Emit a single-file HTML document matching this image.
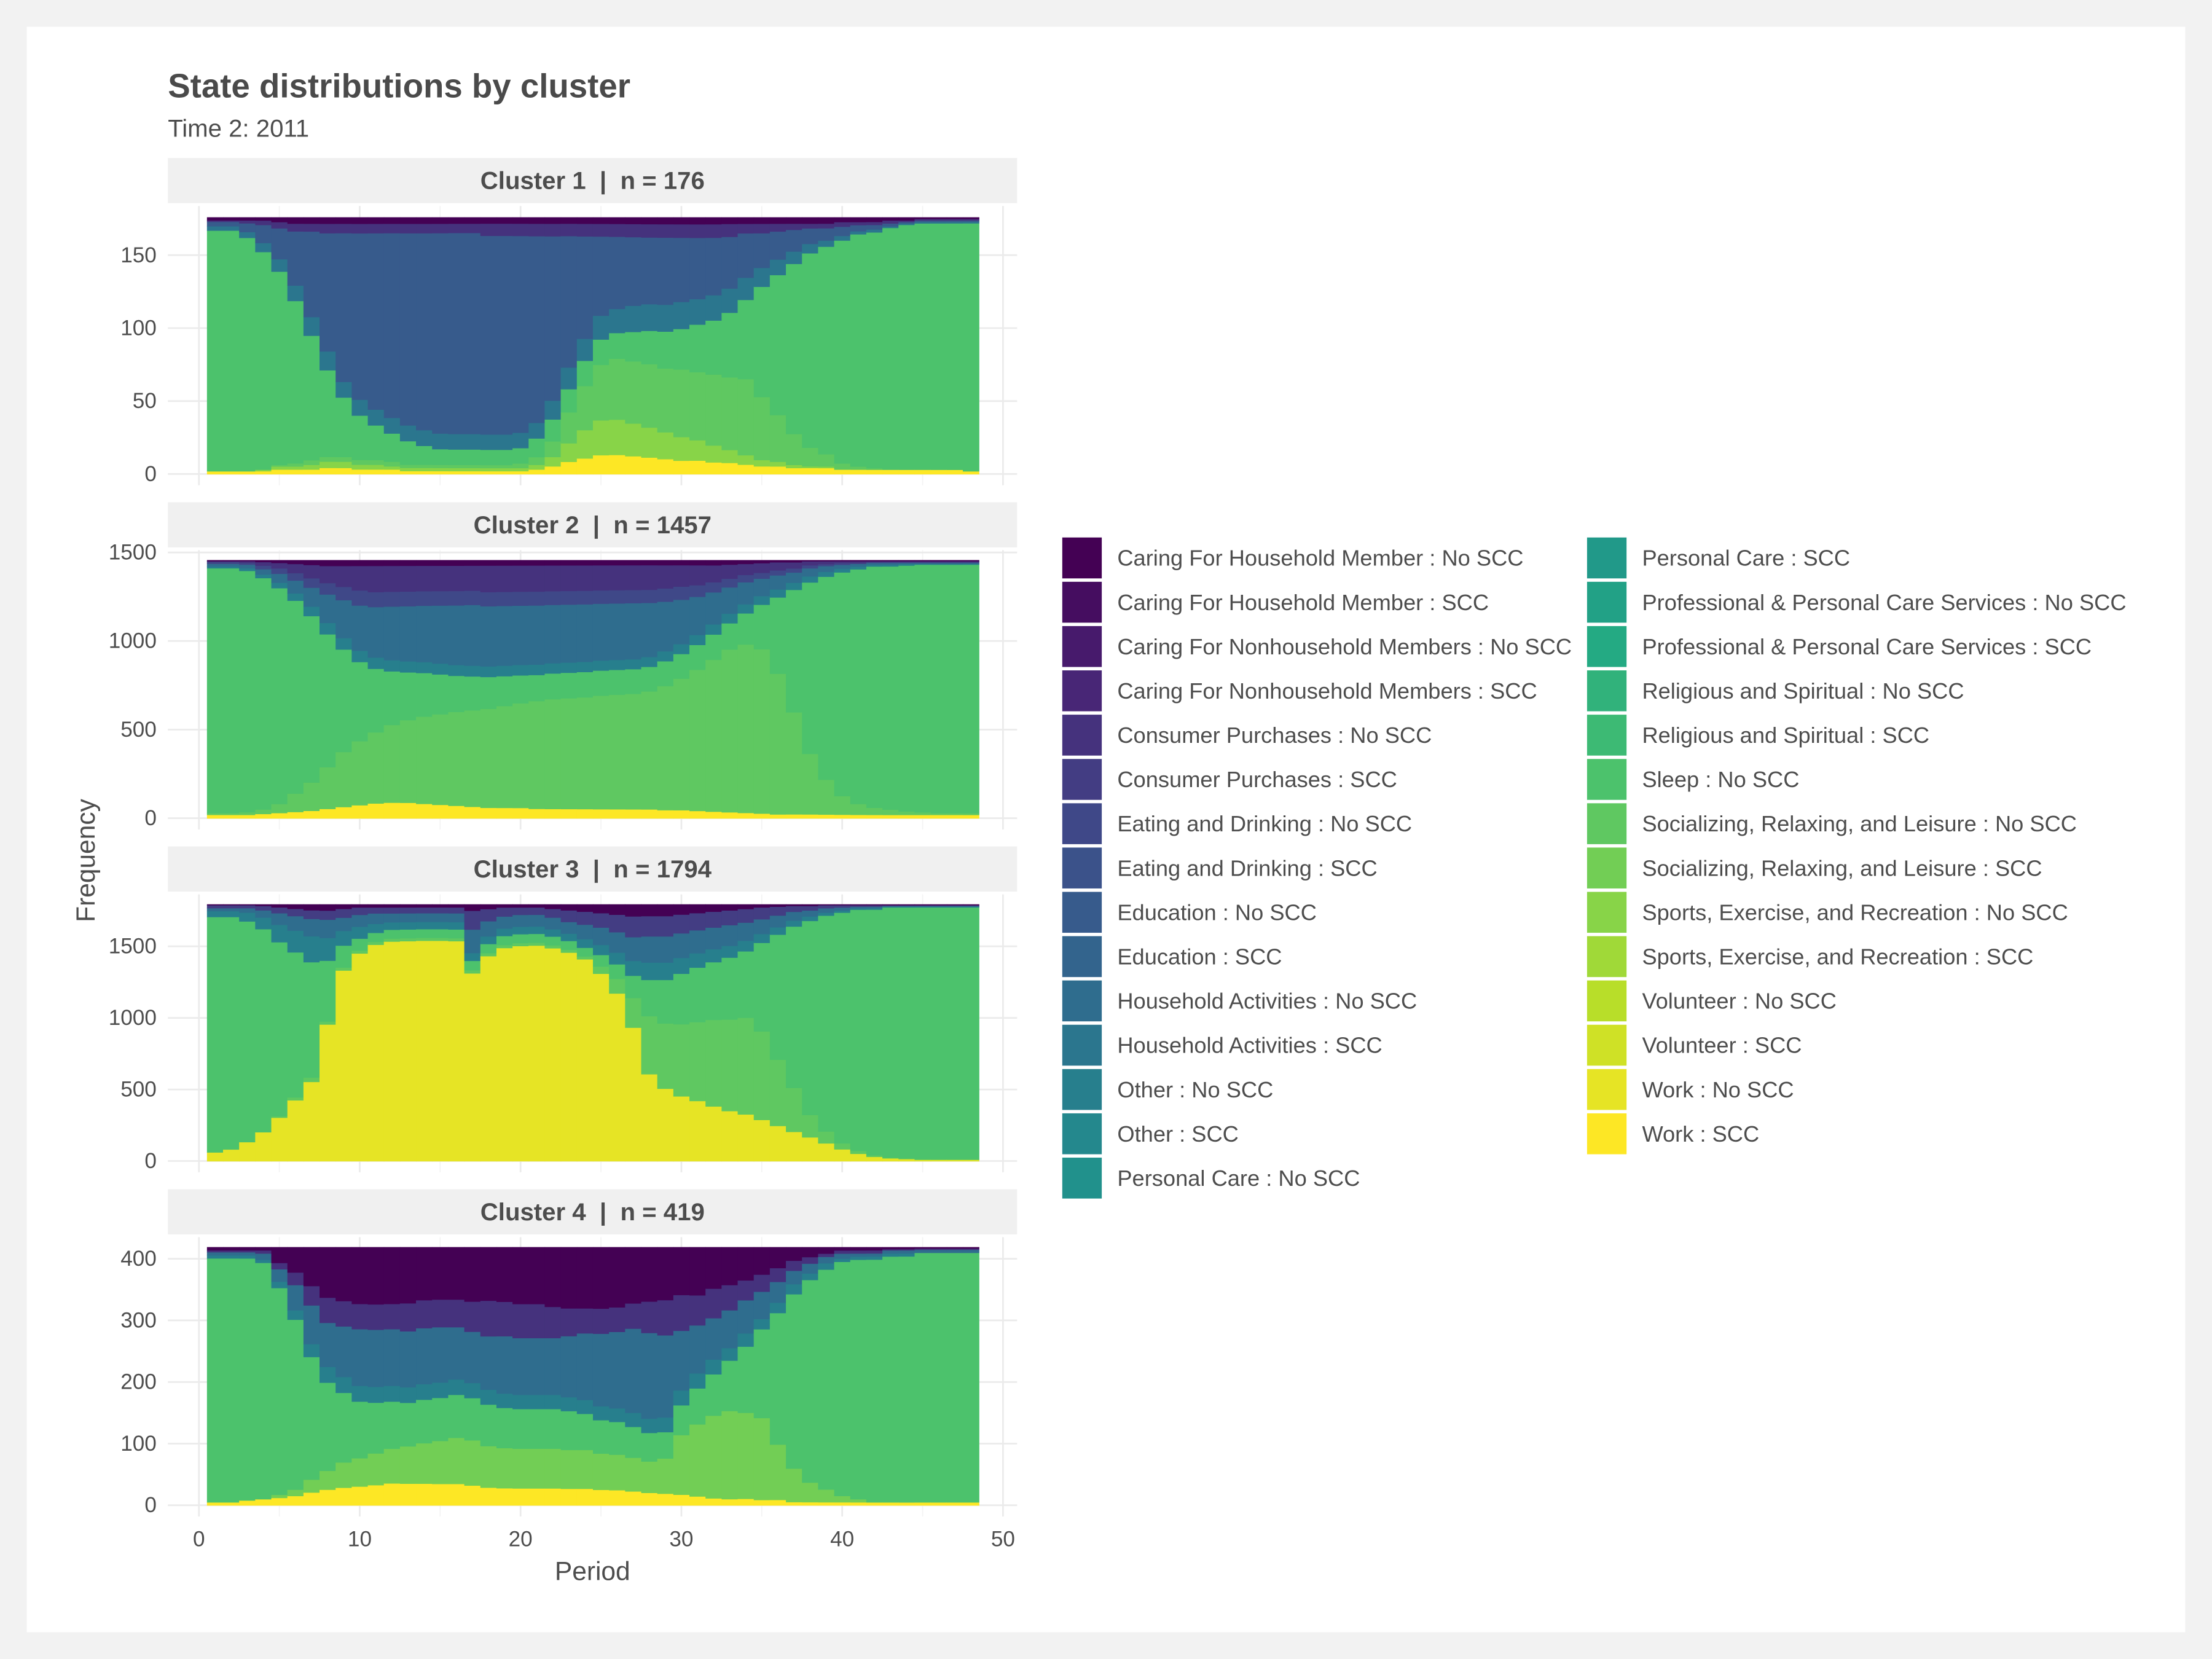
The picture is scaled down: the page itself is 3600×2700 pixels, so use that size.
<!DOCTYPE html>
<html><head><meta charset="utf-8"><style>
html,body{margin:0;padding:0;background:#f2f2f2;}
svg{display:block;font-family:"Liberation Sans",sans-serif;}
</style></head><body>
<svg id="chart" width="3600" height="2700" viewBox="0 0 1568 1176" xmlns="http://www.w3.org/2000/svg">
<rect x="0" y="0" width="1568" height="1176" fill="#f2f2f2"/>
<rect x="19" y="19" width="1530" height="1138" fill="#ffffff"/>
<text x="119" y="69" font-size="23.8" font-weight="bold" fill="#4a4a4a">State distributions by cluster</text>
<text x="119" y="97" font-size="17.5" fill="#4d4d4d">Time 2: 2011</text>
<text transform="translate(67,610) rotate(-90)" text-anchor="middle" font-size="18.5" fill="#4d4d4d">Frequency</text>
<text x="420" y="1120" text-anchor="middle" font-size="18.5" fill="#4d4d4d">Period</text>
<g id="panels"></g>
<g id="legend"></g>
</svg>
<script>
const states = ["Caring For Household Member : No SCC","Caring For Household Member : SCC","Caring For Nonhousehold Members : No SCC","Caring For Nonhousehold Members : SCC","Consumer Purchases : No SCC","Consumer Purchases : SCC","Eating and Drinking : No SCC","Eating and Drinking : SCC","Education : No SCC","Education : SCC","Household Activities : No SCC","Household Activities : SCC","Other : No SCC","Other : SCC","Personal Care : No SCC","Personal Care : SCC","Professional & Personal Care Services : No SCC","Professional & Personal Care Services : SCC","Religious and Spiritual : No SCC","Religious and Spiritual : SCC","Sleep : No SCC","Socializing, Relaxing, and Leisure : No SCC","Socializing, Relaxing, and Leisure : SCC","Sports, Exercise, and Recreation : No SCC","Sports, Exercise, and Recreation : SCC","Volunteer : No SCC","Volunteer : SCC","Work : No SCC","Work : SCC"];
const clusterNames = ["Cluster 1","Cluster 2","Cluster 3","Cluster 4"];
const clusterN = [176,1457,1794,419];
const yTicks1 = [0,50,100,150];
const yTicks2 = [0,500,1000,1500];
const yTicks3 = [0,500,1000,1500];
const yTicks4 = [0,100,200,300,400];
const xTicks = [0,10,20,30,40,50];

const c1_work = [2,2,2,2,3,3,3,4,4,3,3,3,2,2,2,2,2,2,2,2,3,5,8,10,12,12,11,10,9,8,8,7,7,6,5,5,4,4,4,3,3,3,3,3,3,3,3,2];
const c1_sports = [0,0,0,1,2,2,3,4,4,3,3,2,2,2,2,2,2,2,2,2,3,6,12,18,22,22,20,18,16,14,12,10,8,6,4,3,2,1,1,0,0,0,0,0,0,0,0,0];
const c1_social = [0,0,0,0,1,2,3,3,3,3,3,3,2,2,2,2,2,2,2,3,5,10,20,28,35,38,38,38,38,40,40,42,45,48,40,30,20,12,8,4,2,1,0,0,0,0,0,0];
const c1_sleep = [165,165,160,145,125,105,80,55,38,28,22,18,15,12,10,10,10,10,10,10,12,14,15,16,16,16,18,20,22,24,28,32,40,50,70,90,110,125,135,145,152,158,162,165,166,167,168,170];
const c1_household = [3,3,4,6,8,10,12,12,10,10,10,10,10,10,10,10,10,10,10,10,10,12,14,14,15,15,16,16,16,16,15,15,15,14,12,10,8,6,4,3,2,2,1,1,1,1,1,1];
const c1_education = [3,3,6,12,20,35,55,75,95,105,112,118,122,125,128,130,130,130,130,128,120,105,85,65,50,45,42,40,40,38,36,34,32,28,22,18,14,10,8,6,4,3,2,1,1,1,1,1];
const c1_consumer = [1,1,2,3,4,5,5,6,6,6,6,6,6,6,6,6,6,8,8,8,8,8,8,8,8,8,8,8,8,8,8,8,8,6,6,5,4,3,3,3,2,2,2,1,1,1,1,1];
const c1_caring = [2,2,2,2,3,4,4,4,4,4,4,4,4,4,4,4,4,4,4,4,4,4,4,4,4,4,4,4,4,4,4,4,4,4,4,4,4,4,4,3,3,3,2,2,1,1,1,1];

const c2_work = [20,20,20,25,30,35,40,50,60,70,80,85,85,80,75,70,65,60,60,60,55,55,55,55,55,55,55,55,50,50,45,40,35,30,25,20,20,20,20,20,20,20,20,20,20,20,20,20];
const c2_social = [10,10,15,25,50,100,150,220,290,340,380,420,450,480,500,520,540,560,580,600,620,640,650,660,680,690,700,720,750,800,850,900,930,920,850,700,500,300,180,100,60,40,30,20,15,10,10,10];
const c2_sleep = [1380,1380,1360,1300,1200,1050,880,700,540,420,340,290,260,240,220,200,190,180,170,160,150,150,150,150,150,150,150,150,150,150,150,150,150,170,230,380,600,850,1050,1200,1300,1360,1390,1400,1410,1410,1410,1420];
const c2_other = [10,10,15,20,30,40,50,60,60,60,60,60,60,60,60,60,60,60,60,60,60,60,60,60,60,60,60,60,60,60,60,60,55,50,45,40,35,30,25,20,15,10,10,10,5,5,5,5];
const c2_household = [15,15,20,30,50,70,100,150,200,240,270,290,300,310,320,330,340,340,340,340,340,340,340,340,340,340,340,330,300,270,230,190,150,120,90,70,50,40,30,20,15,10,10,5,5,5,5,5];
const c2_eating = [10,10,10,20,30,40,50,60,70,80,80,80,80,80,80,80,80,80,80,80,80,80,80,80,80,80,80,80,80,80,70,60,50,40,30,25,20,15,10,10,5,5,5,5,5,5,5,5];
const c2_consumer = [5,5,10,20,30,50,70,90,110,130,140,140,140,140,140,140,140,150,150,150,150,150,150,150,150,150,150,150,140,130,120,100,80,60,50,40,30,20,15,10,10,5,5,5,5,5,5,5];
const c2_caring = [5,5,5,10,15,20,25,30,30,30,30,30,30,30,30,30,30,30,30,30,30,30,30,30,30,30,30,30,30,30,30,30,25,20,15,10,10,5,5,5,5,5,5,5,5,5,5,5];

const c3_work = [60,80,130,200,300,420,550,900,1300,1400,1450,1480,1500,1520,1520,1500,1200,1350,1420,1450,1470,1460,1430,1400,1300,1150,900,600,500,450,420,380,340,310,280,240,200,160,120,80,50,30,20,15,10,10,10,10];
const c3_social = [0,0,0,0,10,20,30,20,20,20,20,20,20,20,20,20,20,20,20,20,20,20,20,20,50,100,200,400,450,500,550,600,620,640,600,450,300,150,80,40,20,10,5,5,5,5,5,5];
const c3_sleep = [1600,1580,1500,1400,1200,1000,800,400,150,80,60,60,60,60,60,60,60,60,60,60,60,60,60,60,80,100,150,250,300,350,380,400,420,440,600,850,1100,1300,1450,1550,1620,1680,1720,1740,1750,1760,1760,1760];
const c3_other = [40,40,60,80,120,150,180,150,100,80,60,50,50,50,50,50,50,50,50,50,50,50,50,60,70,80,100,120,120,110,100,90,80,70,60,50,40,30,20,15,10,10,5,5,5,5,5,5];
const c3_household = [20,20,30,50,80,100,120,120,90,80,70,60,60,60,60,60,150,100,80,80,80,80,80,100,120,140,160,180,180,170,160,150,140,120,100,80,60,40,30,20,10,10,5,5,5,5,5,5];
const c3_consumer = [20,20,20,30,40,50,60,60,60,50,40,40,40,40,40,40,120,80,60,50,50,60,80,90,100,120,140,140,140,130,120,110,100,90,80,60,40,30,20,15,10,10,5,5,5,5,5,5];
const c3_caring = [5,5,5,10,20,30,40,40,30,20,20,20,20,20,20,20,40,30,20,20,20,30,40,50,60,70,80,80,80,70,60,50,40,30,20,15,10,10,5,5,5,5,5,5,5,5,5,5];

const c4_work = [5,5,8,10,12,15,20,25,28,30,32,35,35,35,35,35,33,30,30,30,30,30,30,30,28,28,25,22,20,18,15,12,10,10,8,8,5,5,5,5,5,5,5,5,5,5,5,5];
const c4_social = [0,0,0,0,5,10,20,30,40,45,50,55,60,65,70,75,75,70,70,70,70,70,70,70,65,65,60,55,60,100,120,140,140,130,120,80,50,30,20,10,5,0,0,0,0,0,0,0];
const c4_sleep = [395,395,390,380,330,270,190,140,110,90,80,75,70,70,70,70,70,70,70,70,70,70,70,65,60,60,55,50,45,50,60,70,80,100,130,190,260,310,345,370,385,395,400,405,405,405,405,405];
const c4_other = [5,5,5,5,10,15,20,25,25,25,25,25,25,25,25,25,25,25,25,25,25,25,25,25,25,25,25,25,25,25,25,25,20,20,15,15,15,10,10,5,5,5,5,5,0,0,0,0];
const c4_household = [5,5,5,10,20,40,60,70,80,90,90,90,90,90,90,85,85,90,100,100,100,100,110,120,130,140,150,150,140,100,80,70,60,50,40,30,20,15,10,8,5,5,5,5,5,5,5,5];
const c4_consumer = [3,3,3,5,10,20,30,40,40,40,40,40,45,45,45,45,50,60,60,60,60,55,50,45,45,45,45,55,60,60,50,50,40,30,25,20,15,10,5,5,5,5,2,2,2,2,2,2];
const c4_caring = [5,5,5,5,25,40,60,80,85,90,90,90,90,85,85,85,90,90,95,100,100,105,110,110,110,110,100,95,90,80,80,70,60,50,40,30,20,15,10,5,5,5,3,3,2,2,2,2];

const bands = [
 [[28,c1_work],[23,c1_sports],[21,c1_social],[20,c1_sleep],[11,c1_household],[8,c1_education],[4,c1_consumer],[0,c1_caring]],
 [[28,c2_work],[21,c2_social],[20,c2_sleep],[12,c2_other],[10,c2_household],[6,c2_eating],[4,c2_consumer],[0,c2_caring]],
 [[27,c3_work],[21,c3_social],[20,c3_sleep],[12,c3_other],[10,c3_household],[5,c3_consumer],[0,c3_caring]],
 [[28,c4_work],[22,c4_social],[20,c4_sleep],[12,c4_other],[10,c4_household],[4,c4_consumer],[0,c4_caring]]
];

const stops=["#440154","#482475","#414487","#355f8d","#2a788e","#21918c","#22a884","#44bf70","#7ad151","#bddf26","#fde725"];
function hx(h){return [1,3,5].map(i=>parseInt(h.substr(i,2),16));}
function viridis(t){const p=t*10,i=Math.min(9,Math.floor(p)),f=p-i;const a=hx(stops[i]),b=hx(stops[i+1]);return "rgb("+a.map((v,k)=>Math.round(v+(b[k]-v)*f)).join(",")+")";}
const colors=states.map((s,i)=>viridis(i/(states.length-1)));

const NS="http://www.w3.org/2000/svg";
function mk(tag,attrs,parent){const e=document.createElementNS(NS,tag);for(const k in attrs)e.setAttribute(k,attrs[k]);parent.appendChild(e);return e;}

const layout=[{strip:112,y0:336,yTop:154},{strip:356,y0:580,yTop:397},{strip:600,y0:823,yTop:641},{strip:843,y0:1067,yTop:884}];
const ticksArr=[yTicks1,yTicks2,yTicks3,yTicks4];
const px0=119,px1=721;
function xs(v){return 141+v*11.4;}
const panels=document.getElementById("panels");
layout.forEach((L,ci)=>{
  const g=mk("g",{},panels);
  
  
  const n=clusterN[ci];
  const ys=v=>L.y0-(v/n)*(L.y0-L.yTop);
  const pTop=L.strip+34, pBot=L.y0+8;
  for(let v=5;v<=45;v+=10){const l=mk("line",{x1:xs(v),x2:xs(v),y1:pTop,y2:pBot,stroke:"#f3f3f3","stroke-width":0.7},g);}
  xTicks.forEach(v=>{const l=mk("line",{x1:xs(v),x2:xs(v),y1:pTop,y2:pBot,stroke:"#ebebeb","stroke-width":1.2},g);});
  ticksArr[ci].forEach(v=>{
    const l=mk("line",{x1:px0,x2:px1,y1:ys(v),y2:ys(v),stroke:"#ebebeb","stroke-width":1.2},g);
    
    
    const t=mk("text",{x:111,y:ys(v)+5,"text-anchor":"end","font-size":15.3,fill:"#4d4d4d"},g);
    
    
    t.textContent=v;
  });
  const sr=mk("rect",{x:px0,y:L.strip,width:px1-px0,height:32,fill:"#f0f0f0"},g);
  
  
  const st=mk("text",{x:(px0+px1)/2,y:L.strip+22,"text-anchor":"middle","font-size":17.5,"font-weight":"bold",fill:"#4d4d4d"},g);
  
  
  st.textContent=clusterNames[ci]+"\u00a0\u00a0|\u00a0\u00a0n = "+n;
  const B=bands[ci].slice().sort((a,b)=>b[0]-a[0]);
  for(let p=0;p<48;p++){
    let tot=0;B.forEach(b=>tot+=b[1][p]);
    let cum=0;
    B.forEach(b=>{
      const v=b[1][p]/tot*n;if(v<=0)return;
      const yA=ys(cum),yB=ys(cum+v);cum+=v;
      const r=mk("rect",{x:xs(p+0.5),y:yB,width:xs(p+1.5)-xs(p+0.5)+0.3,height:yA-yB+0.3,fill:colors[b[0]]},g);
      
      
    });
  }
  if(ci===3){
    xTicks.forEach(v=>{
      const t=mk("text",{x:xs(v),y:1096,"text-anchor":"middle","font-size":15.3,fill:"#4d4d4d"},g);
      
      
      t.textContent=v;
    });
  }
});
const lg=document.getElementById("legend");


states.forEach((s,i)=>{
  const col=i<15?0:1,row=i<15?i:i-15;
  const x=col?1125:753,y=381+row*31.4;
  const e=mk("g",{},lg);
  
  
  const r=mk("rect",{x:x,y:y,width:28,height:29,fill:colors[i]},e);
  
  
  const t=mk("text",{x:x+39,y:y+20,"font-size":15.8,fill:"#4d4d4d"},e);
  
  
  t.textContent=s;
});
</script>
</body></html>
